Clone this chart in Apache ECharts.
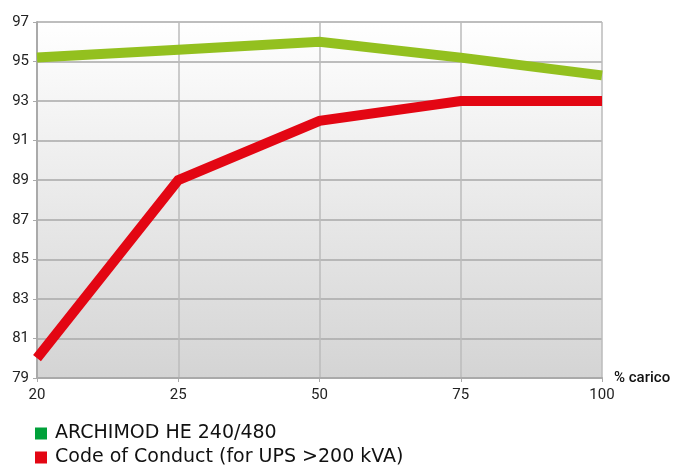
<!DOCTYPE html>
<html><head><meta charset="utf-8">
<script src="https://cdn.jsdelivr.net/npm/echarts@6/dist/echarts.min.js"></script>
<style>html,body{margin:0;padding:0;background:#fff}#c{width:682px;height:468px}</style>
</head><body><div id="c"></div>
<script>
const categories = ['20', '25', '50', '75', '100'];
const archimod = [95.2, 95.6, 96.0, 95.2, 94.3];
const codeOfConduct = [80.0, 89.0, 92.0, 93.0, 93.0];
const seriesNames = ['ARCHIMOD HE 240/480', 'Code of Conduct (for UPS >200 kVA)'];

const chart = echarts.init(document.getElementById('c'));
const font = 'Roboto, "DejaVu Sans", sans-serif';
chart.setOption({
  animation: false,
  graphic: [{type: 'text', left: 2, top: -11, style: {text: 'Efficienza', font: '13px ' + font, fill: '#222'}}],
  grid: {left: 37, right: 80, top: 22, bottom: 90, show: true, borderWidth: 0,
    backgroundColor: {type: 'linear', x: 0, y: 0, x2: 0, y2: 1,
      colorStops: [{offset: 0, color: '#ffffff'}, {offset: 1, color: '#d4d4d4'}]}},
  legend: {orient: 'vertical', left: 35, top: 424, height: 80, itemWidth: 12, itemHeight: 12, itemGap: 5,
    padding: 0, icon: 'rect', align: 'left',
    textStyle: {fontSize: 19, color: '#111', fontFamily: '"DejaVu Sans", sans-serif', padding: [0, 0, 0, 3]}, data: seriesNames},
  xAxis: {type: 'category', data: categories, boundaryGap: false,
    name: '% carico', nameLocation: 'end', nameGap: 12,
    nameTextStyle: {fontSize: 15, color: '#111', fontFamily: font, fontWeight: 500},
    axisLine: {lineStyle: {color: '#aaa', width: 2}},
    axisTick: {show: true, length: 4, lineStyle: {color: '#aaa'}},
    axisLabel: {fontSize: 15, color: '#222', fontFamily: font, margin: 10},
    splitLine: {show: true, lineStyle: {color: '#bbb', width: 1.5}}},
  yAxis: {type: 'value', min: 79, max: 97, interval: 2,
    axisLine: {show: true, lineStyle: {color: '#aaa', width: 2}},
    axisTick: {show: true, length: 4, lineStyle: {color: '#aaa'}},
    axisLabel: {fontSize: 15, color: '#222', fontFamily: font, margin: 8},
    splitLine: {show: true, lineStyle: {color: '#a8a8a8', width: 1.5}}},
  series: [
    {name: seriesNames[0], type: 'line', data: archimod, symbol: 'none',
      itemStyle: {color: '#00a13a'}, lineStyle: {color: '#93c01f', width: 10, join: 'miter'}},
    {name: seriesNames[1], type: 'line', data: codeOfConduct, symbol: 'none',
      itemStyle: {color: '#e30613'}, lineStyle: {color: '#e30613', width: 10, join: 'miter'}}
  ]
});
</script></body></html>
